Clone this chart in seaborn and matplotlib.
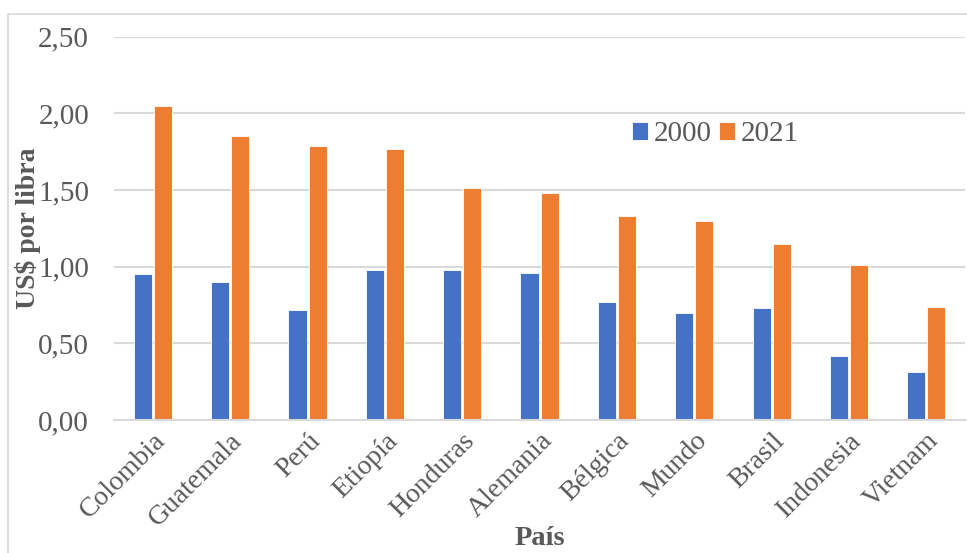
import numpy as np
import pandas as pd
import seaborn as sns
from matplotlib import pyplot as plt
from matplotlib.patches import Rectangle

# datos
paises = ["Colombia", "Guatemala", "Perú", "Etiopía", "Honduras", "Alemania",
          "Bélgica", "Mundo", "Brasil", "Indonesia", "Vietnam"]
precio_2000 = [0.95, 0.90, 0.72, 0.98, 0.98, 0.96, 0.77, 0.70, 0.73, 0.42, 0.31]
precio_2021 = [2.05, 1.85, 1.79, 1.77, 1.51, 1.48, 1.33, 1.30, 1.15, 1.01, 0.74]
anios = ["2000", "2021"]

df = pd.DataFrame({
    "País": paises * 2,
    "Precio": precio_2000 + precio_2021,
    "Año": [anios[0]] * len(paises) + [anios[1]] * len(paises),
})

sns.set_style("white")
plt.rcParams['font.family'] = ['Liberation Serif', 'DejaVu Serif']

fig = plt.figure(figsize=(9.67, 5.53), dpi=100)
ax = fig.add_axes([0.118, 0.2405, 0.880, 0.6931])

sns.barplot(data=df, x="País", y="Precio", hue="Año",
            palette=["#4472C4", "#ED7D31"], saturation=1, width=0.52, gap=0.1,
            edgecolor="white", linewidth=0.6, ax=ax)

ax.set_ylim(0, 2.5)
ax.set_yticks(np.arange(0, 2.51, 0.5))
ax.set_yticklabels([f"{v:.2f}".replace(".", ",") for v in np.arange(0, 2.51, 0.5)])
ax.set_xlim(-0.5, len(paises) - 0.5)
ax.yaxis.grid(True, color="#D9D9D9", linewidth=1.5)
ax.set_axisbelow(True)
for s in ["top", "right", "left"]:
    ax.spines[s].set_visible(False)
ax.spines["bottom"].set_color("#D9D9D9")
ax.spines["bottom"].set_linewidth(1.5)

ax.tick_params(axis="both", length=0, colors="#595959", labelsize=21)
ax.tick_params(axis="y", pad=18)
plt.setp(ax.get_xticklabels(), rotation=45, ha="right", rotation_mode="anchor")
ax.tick_params(axis="x", labelsize=20, pad=6)

ax.set_ylabel("US$ por libra", fontsize=20, fontweight="bold", color="#595959", labelpad=-2)
ax.set_xlabel("País", fontsize=20.5, fontweight="bold", color="#595959", labelpad=-4)

leg = ax.legend(loc="center", bbox_to_anchor=(0.707, 0.745), ncol=2, frameon=False,
                fontsize=21, handlelength=0.55, handleheight=0.55,
                handletextpad=0.2, columnspacing=0.25)
for t in leg.get_texts():
    t.set_color("#595959")

# borde del area del grafico
fig.add_artist(Rectangle((0.008, -0.02), 1.2, 0.995, transform=fig.transFigure,
                         fill=False, edgecolor="#D9D9D9", linewidth=1.2))

fig.savefig("out.png", dpi=100)
